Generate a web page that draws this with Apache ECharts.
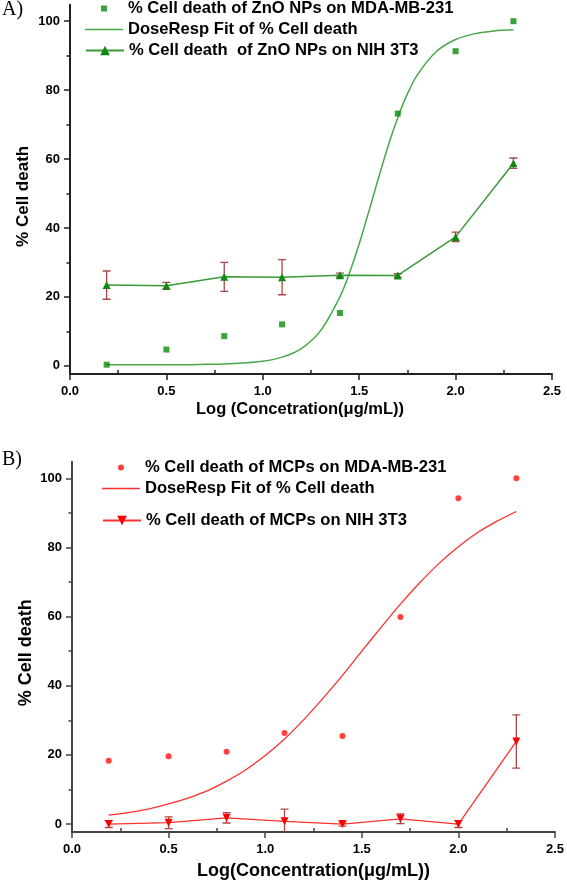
<!DOCTYPE html>
<html>
<head>
<meta charset="utf-8">
<script src="https://cdn.jsdelivr.net/npm/echarts@6/dist/echarts.min.js"></script>
<style>
html,body{margin:0;padding:0;background:#fff;}
#c{width:567px;height:884px;}
</style>
</head>
<body>
<div id="c"></div>
<script>
// ---------- data ----------
const logConc = [0.19, 0.50, 0.80, 1.10, 1.40, 1.70, 2.00, 2.30];

// Panel A (ZnO NPs)
const znoMDA = [0.3, 4.7, 8.6, 12.0, 15.3, 73.2, 91.3, 100.0];
const znoFitX = [0.19, 0.3, 0.4, 0.5, 0.6, 0.7, 0.8, 0.9, 1.0, 1.1, 1.2, 1.3, 1.4, 1.45, 1.5, 1.55, 1.6, 1.65, 1.7, 1.75, 1.8, 1.9, 2.0, 2.1, 2.2, 2.3];
const znoFitY = [0.3, 0.3, 0.3, 0.3, 0.3, 0.4, 0.5, 0.8, 1.3, 2.5, 5.0, 10.2, 20.0, 27.0, 35.4, 44.8, 54.5, 63.8, 72.0, 78.9, 84.3, 91.2, 94.7, 96.4, 97.2, 97.5];
const znoNIH = [23.4, 23.2, 25.8, 25.7, 26.3, 26.2, 37.4, 58.8];
const znoNIHErr = [4.1, 1.0, 4.2, 5.1, 0.6, 0.5, 1.4, 1.5];

// Panel B (MCPs)
const mcpMDA = [18.3, 19.6, 20.9, 26.3, 25.5, 59.9, 94.2, 100.0];
const mcpFitX = [0.19, 0.3, 0.4, 0.5, 0.6, 0.7, 0.8, 0.9, 1.0, 1.1, 1.2, 1.3, 1.4, 1.5, 1.6, 1.7, 1.8, 1.9, 2.0, 2.1, 2.2, 2.3];
const mcpFitY = [2.6, 3.4, 4.4, 5.8, 7.5, 9.6, 12.4, 15.7, 19.8, 24.6, 30.2, 36.4, 43.0, 50.0, 56.9, 63.6, 69.8, 75.4, 80.2, 84.3, 87.6, 90.4];
const mcpNIH = [0.0, 0.4, 1.8, 0.8, 0.0, 1.5, 0.0, 23.9];
const mcpNIHErr = [1.0, 1.7, 1.5, 3.5, 0.6, 1.4, 1.0, 7.7];

const yMajor = [0, 20, 40, 60, 80, 100];
const yMinor = [10, 30, 50, 70, 90];
const xMinor = [0.25, 0.75, 1.25, 1.75, 2.25];

const names = {
  aS1: '% Cell death of ZnO NPs on MDA-MB-231',
  aS2: 'DoseResp Fit of % Cell death',
  aS3: '% Cell death  of ZnO NPs on NIH 3T3',
  bS1: '% Cell death of MCPs on MDA-MB-231',
  bS2: 'DoseResp Fit of % Cell death ',
  bS3: '% Cell death of MCPs on NIH 3T3'
};

// ---------- helpers ----------
const FONT = '"Liberation Sans", Arial, sans-serif';
const zip = (xs, ys) => xs.map((x, i) => [x, ys[i]]);
const errData = (xs, ys, es) => xs.map((x, i) => [x, ys[i] - es[i], ys[i] + es[i]]);

function errRender(color) {
  return function (params, api) {
    const x = api.value(0), lo = api.value(1), hi = api.value(2);
    const a = api.coord([x, hi]);
    const b = api.coord([x, lo]);
    const cap = 4;
    const st = { stroke: color, lineWidth: 1.3 };
    return {
      type: 'group',
      children: [
        { type: 'line', shape: { x1: a[0], y1: a[1], x2: b[0], y2: b[1] }, style: st },
        { type: 'line', shape: { x1: a[0] - cap, y1: a[1], x2: a[0] + cap, y2: a[1] }, style: st },
        { type: 'line', shape: { x1: b[0] - cap, y1: b[1], x2: b[0] + cap, y2: b[1] }, style: st }
      ]
    };
  };
}

function mainY(grid, min, max, axisColor, nameSize, nameGap, namePad) {
  return {
    gridIndex: grid, type: 'value', min: min, max: max, position: 'left',
    axisLine: { show: true, onZero: false, lineStyle: { color: axisColor, width: 2 } },
    axisTick: { show: true, customValues: yMajor, length: 6, lineStyle: { color: axisColor, width: 1.5 } },
    axisLabel: { show: true, customValues: yMajor, fontFamily: FONT, fontWeight: 'bold', fontSize: 13, color: '#000', margin: 10 },
    splitLine: { show: false },
    name: '% Cell death', nameLocation: 'middle', nameGap: nameGap, nameMoveOverlap: false,
    nameTextStyle: { fontFamily: FONT, fontWeight: 'bold', fontSize: nameSize, color: '#000', padding: namePad }
  };
}
function minorY(grid, min, max, axisColor) {
  return {
    gridIndex: grid, type: 'value', min: min, max: max, position: 'left', offset: 0,
    axisLine: { show: false, onZero: false },
    axisTick: { show: true, customValues: yMinor, length: 3.5, lineStyle: { color: axisColor, width: 1.5 } },
    axisLabel: { show: false }, splitLine: { show: false }
  };
}
function mainX(grid, axisColor, name, nameSize, nameGap, namePad) {
  return {
    gridIndex: grid, type: 'value', min: 0, max: 2.5, interval: 0.5, position: 'bottom',
    axisLine: { show: true, onZero: false, lineStyle: { color: axisColor, width: 2 } },
    axisTick: { show: true, length: 6, lineStyle: { color: axisColor, width: 1.5 } },
    axisLabel: { fontFamily: FONT, fontWeight: 'bold', fontSize: 13, color: '#000', margin: 11,
                 formatter: v => v.toFixed(1) },
    splitLine: { show: false },
    name: name, nameLocation: 'middle', nameGap: nameGap,
    nameTextStyle: { fontFamily: FONT, fontWeight: 'bold', fontSize: nameSize, color: '#000', padding: namePad }
  };
}
function minorX(grid, axisColor) {
  return {
    gridIndex: grid, type: 'value', min: 0, max: 2.5, position: 'bottom', offset: 0,
    axisLine: { show: false, onZero: false },
    axisTick: { show: true, inside: true, customValues: xMinor, length: 4, lineStyle: { color: axisColor, width: 1.5 } },
    axisLabel: { show: false }, splitLine: { show: false }
  };
}
const SQUARE = 'path://M0,0L10,0L10,10L0,10Z';
function legendRow(name, left, top, icon, iconH) {
  const item = icon ? { name: name, icon: icon } : { name: name };
  return {
    data: [item], left: left, top: top, orient: 'horizontal',
    itemWidth: 38, itemHeight: iconH, itemGap: 0, symbolKeepAspect: true,
    textStyle: { fontFamily: FONT, fontWeight: 'bold', fontSize: 16.6, color: '#000' },
    padding: 0, selectedMode: false
  };
}

// ---------- chart ----------
const chart = echarts.init(document.getElementById('c'), null, { renderer: 'canvas' });

const greenPt = '#0a8a0a';
const greenFit = '#4aa84a';
const greenLine = '#3a993a';
const errA = '#a84848';
const redPt = '#ff1010';
const redLine = '#ff3030';
const errB = '#a84848';

const option = {
  backgroundColor: '#ffffff',
  animation: false,
  grid: [
    { left: 70, top: 4.7, width: 482, height: 369.3 },
    { left: 72, top: 461.7, width: 484, height: 370.3 }
  ],
  xAxis: [
    mainX(0, '#222', 'Log (Concetration(\u03bcg/mL))', 16.5, 27, [0, 22, 0, 0]),
    minorX(0, '#222'),
    mainX(1, '#444', 'Log(Concentration(\u03bcg/mL))', 18, 30, 0),
    minorX(1, '#444')
  ],
  yAxis: [
    mainY(0, -2.4, 104.8, '#222', 17, 38.5, [0, 14, 0, 0]),
    minorY(0, -2.4, 104.8, '#222'),
    mainY(1, -2.3, 104.8, '#444', 18, 37, [0, 12, 0, 0]),
    minorY(1, -2.3, 104.8, '#444')
  ],
  legend: [
    legendRow(names.aS1, 101, 0, SQUARE, 6),
    legendRow(names.aS2, 85, 21, 'rect', 1.6),
    legendRow(names.aS3, 85, 42, null, 12),
    legendRow(names.bS1, 118, 459, 'circle', 6),
    legendRow(names.bS2, 102, 480, 'rect', 1.4),
    legendRow(names.bS3, 102, 512, null, 12)
  ],
  graphic: [
    { type: 'text', left: 2, top: 0, style: { text: 'A)', font: '20px "Liberation Serif", serif', fill: '#000' } },
    { type: 'text', left: 2, top: 450, style: { text: 'B)', font: '20px "Liberation Serif", serif', fill: '#000' } }
  ],
  series: [
    // ---- Panel A ----
    {
      name: names.aS2, type: 'line', xAxisIndex: 0, yAxisIndex: 0,
      data: zip(znoFitX, znoFitY), smooth: 0.3, showSymbol: false, symbol: 'none',
      lineStyle: { color: greenFit, width: 1.5 }, itemStyle: { color: greenFit }, z: 2
    },
    {
      name: 'errA', type: 'custom', xAxisIndex: 0, yAxisIndex: 0, clip: true,
      data: errData(logConc, znoNIH, znoNIHErr), renderItem: errRender(errA), z: 3
    },
    {
      name: names.aS3, type: 'line', xAxisIndex: 0, yAxisIndex: 0,
      data: zip(logConc, znoNIH), symbol: 'triangle', symbolSize: 8,
      lineStyle: { color: greenLine, width: 1.5 }, itemStyle: { color: '#118811' }, z: 4
    },
    {
      name: names.aS1, type: 'scatter', xAxisIndex: 0, yAxisIndex: 0,
      data: zip(logConc, znoMDA), symbol: 'rect', symbolSize: 6,
      itemStyle: { color: greenPt }, z: 5
    },
    // ---- Panel B ----
    {
      name: names.bS2, type: 'line', xAxisIndex: 2, yAxisIndex: 2,
      data: zip(mcpFitX, mcpFitY), smooth: 0.3, showSymbol: false, symbol: 'none',
      lineStyle: { color: redLine, width: 1.3 }, itemStyle: { color: redLine }, z: 2
    },
    {
      name: 'errB', type: 'custom', xAxisIndex: 2, yAxisIndex: 2, clip: true,
      data: errData(logConc, mcpNIH, mcpNIHErr), renderItem: errRender(errB), z: 3
    },
    {
      name: names.bS3, type: 'line', xAxisIndex: 2, yAxisIndex: 2,
      data: zip(logConc, mcpNIH), symbol: 'triangle', symbolRotate: 180, symbolSize: 8,
      lineStyle: { color: redLine, width: 1.3 }, itemStyle: { color: '#ff0000' }, z: 4
    },
    {
      name: names.bS1, type: 'scatter', xAxisIndex: 2, yAxisIndex: 2,
      data: zip(logConc, mcpMDA), symbol: 'circle', symbolSize: 6,
      itemStyle: { color: redPt }, z: 5
    }
  ]
};
chart.setOption(option);
</script>
</body>
</html>
